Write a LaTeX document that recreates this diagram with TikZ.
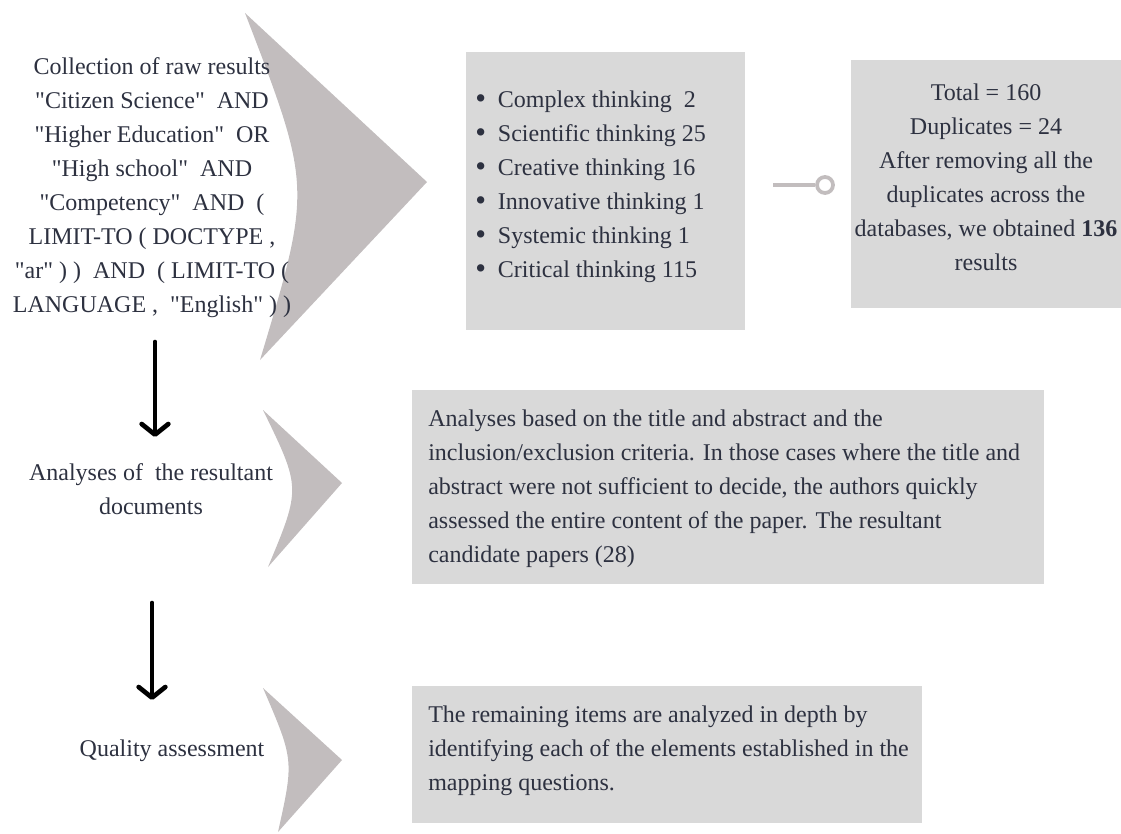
\documentclass[tikz,border=0pt]{standalone}
\usepackage{fontspec}
\setmainfont{Liberation Serif}[Ligatures=TeXOff]
\usetikzlibrary{arrows.meta}
\definecolor{chevgrey}{HTML}{C2BDBE}
\definecolor{boxgrey}{HTML}{D9D9D9}
\definecolor{inkcol}{HTML}{2D3140}
\newcommand{\bul}{\makebox[17pt][l]{\raisebox{-1pt}{\fontsize{23}{23}\selectfont•}}}
\begin{document}
\begin{tikzpicture}[x=0.75pt,y=-0.75pt,
  txt/.style={inner sep=0pt,text=inkcol,font=\fontsize{18}{25.5}\selectfont},
  downarrow/.style={line width=3.5pt,line cap=round,-{Straight Barb[length=8pt,width=20pt,line width=3.5pt,round]}}]
\useasboundingbox (0,0) rectangle (1121,834);

% chevrons
\fill[chevgrey] (245,13) -- (427,182) -- (260,360) .. controls (312,187) .. (245,13);
\fill[chevgrey] (263,410) -- (342,483) -- (268,567) .. controls (301,488) .. (263,410);
\fill[chevgrey] (263,688) -- (342,760) -- (278,832) .. controls (294,760) .. (263,688);

% boxes
\fill[boxgrey] (466,52) rectangle (745,330);
\fill[boxgrey] (851,60) rectangle (1130,308);
\fill[boxgrey] (412,390) rectangle (1044,584);
\fill[boxgrey] (412,686) rectangle (922,823);

% left labels
\node[txt,align=center] (query) at (152,187.5) {Collection of raw results\\
"Citizen Science"\ \ AND\\ "Higher Education"\ \ OR\\ "High school"\ \ AND\\
"Competency"\ \ AND\ \ (\\ LIMIT-TO ( DOCTYPE ,\\ "ar" ) )\ \ AND\ \ ( LIMIT-TO (\\
LANGUAGE ,\ \ "English" ) )};
\node[txt,align=center] (screen) at (151,489) {Analyses of\ \ the resultant\\ documents};
\node[txt] (quality) at (172,751) {Quality assessment};

% box texts
\node[txt,align=left,anchor=west] (topics) at (475,186.5) {%
\bul Complex thinking\ \ 2\\
\bul Scientific thinking 25\\
\bul Creative thinking 16\\
\bul Innovative thinking 1\\
\bul Systemic thinking 1\\
\bul Critical thinking 115};
\node[txt,align=center] (tally) at (986,177) {Total = 160\\ Duplicates = 24\\
After removing all the\\ duplicates across the\\
databases, we obtained \textbf{136}\\ results};
\node[txt,align=left,anchor=west] (criteria) at (428,489) {Analyses based on the title and abstract and the\\
inclusion/exclusion criteria. In those cases where the title and\\
abstract were not sufficient to decide, the authors quickly\\
assessed the entire content of the paper. The resultant\\
candidate papers (28)};
\node[txt,align=left,anchor=west] (depth) at (428,750.5) {The remaining items are analyzed in depth by\\
identifying each of the elements established in the\\
mapping questions.};

% knob connector
\coordinate (knobstart) at (773,185);
\node[circle,draw=chevgrey,line width=2.8pt,fill=white,minimum size=12pt,inner sep=0pt] (knob) at (825,185) {};
\draw[chevgrey,line width=2.8pt] (knobstart) -- (knob);

% arrows
\coordinate (a1) at (155,342);
\coordinate (b1) at (155,437);
\coordinate (a2) at (152,603);
\coordinate (b2) at (152,700);
\draw[downarrow] (a1) -- (b1);
\draw[downarrow] (a2) -- (b2);
\end{tikzpicture}
\end{document}
